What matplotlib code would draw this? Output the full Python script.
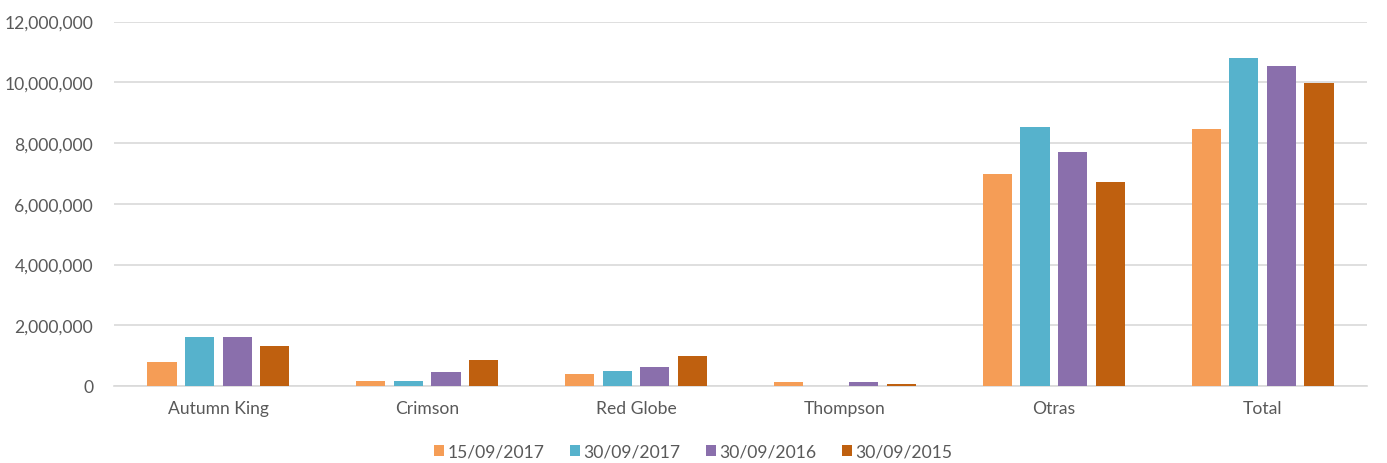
import numpy as np
import matplotlib.pyplot as plt
from matplotlib.ticker import FuncFormatter

plt.rcParams['font.family'] = ['Lato', 'DejaVu Sans']

categories = ["Autumn King", "Crimson", "Red Globe", "Thompson", "Otras", "Total"]
series_names = ["15/09/2017", "30/09/2017", "30/09/2016", "30/09/2015"]
s_15_09_2017 = [800000, 150000, 390000, 130000, 6970000, 8460000]
s_30_09_2017 = [1600000, 160000, 490000, 0, 8530000, 10800000]
s_30_09_2016 = [1600000, 470000, 620000, 130000, 7690000, 10520000]
s_30_09_2015 = [1310000, 860000, 1000000, 70000, 6730000, 9970000]
colors = ["#F59D56", "#56B2CC", "#8A6FAC", "#BF600F"]

series = [s_15_09_2017, s_30_09_2017, s_30_09_2016, s_30_09_2015]

fig = plt.figure(figsize=(13.87, 4.64), dpi=100)
ax = fig.add_axes([114 / 1387, 1 - 387 / 464, (1367 - 114) / 1387, (387 - 22.5) / 464])

x = np.arange(len(categories))
step = 0.18
width = 0.14
for i, (vals, name) in enumerate(zip(series, series_names)):
    ax.bar(x + (i - 1.5) * step, vals, width, color=colors[i], label=name, zorder=3)

ax.set_xlim(-0.5, len(categories) - 0.5)
ax.set_ylim(0, 12000000)
ax.set_yticks(np.arange(0, 12000001, 2000000))
ax.yaxis.set_major_formatter(FuncFormatter(lambda v, p: f"{int(v):,}"))
ax.set_xticks(x)
ax.set_xticklabels(categories)

ax.grid(axis='y', color='#D9D9D9', linewidth=1.2, zorder=0)
for s in ['top', 'right', 'left']:
    ax.spines[s].set_visible(False)
ax.spines['bottom'].set_color('#D9D9D9')
ax.spines['bottom'].set_linewidth(1.2)
ax.tick_params(length=0, labelcolor='#595959', labelsize=12.6)
ax.tick_params(axis='x', pad=10)
ax.tick_params(axis='y', pad=15)

fig.legend(loc='center', bbox_to_anchor=(0.5, 1 - 453 / 464), ncol=4, frameon=False,
           fontsize=12.6, labelcolor='#595959', handlelength=0.57, handleheight=0.57,
           handletextpad=0.2, columnspacing=1.45)

fig.savefig("out.png", dpi=100, facecolor='white')
